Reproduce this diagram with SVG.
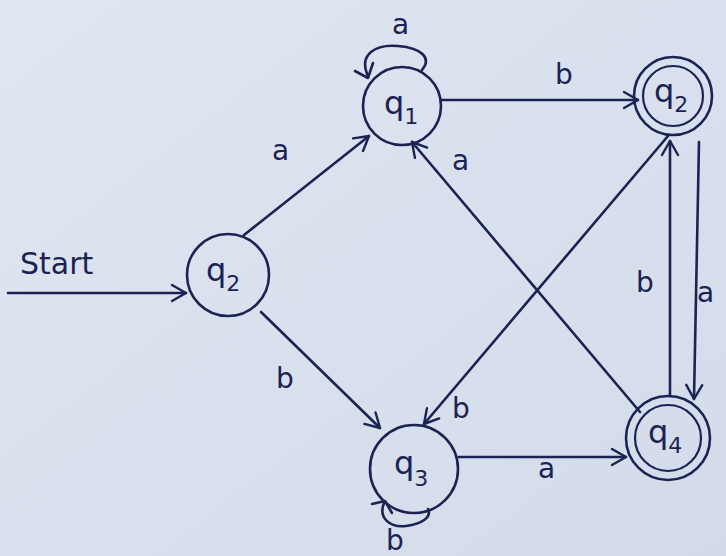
<svg xmlns="http://www.w3.org/2000/svg" width="726" height="556" viewBox="0 0 726 556">
  <style>
    .st { fill: none; stroke: #1b2353; stroke-width: 2.6; stroke-linecap: round; stroke-linejoin: round; }
    .thin { fill: none; stroke: #1b2353; stroke-width: 2.2; }
    .lbl { font-family: "DejaVu Sans", "Liberation Sans", sans-serif; font-size: 28px; fill: #1b2353; }
    .q { font-family: "DejaVu Sans", "Liberation Sans", sans-serif; font-size: 32px; fill: #1b2353; }
    .sub { font-size: 22px; }
  </style>
  <defs>
    <marker id="arr" viewBox="0 0 20 20" refX="18" refY="10" markerWidth="20" markerHeight="20" markerUnits="userSpaceOnUse" orient="auto">
      <path d="M4,2 L18,10 L4,18" fill="none" stroke="#1b2353" stroke-width="2.4" stroke-linecap="round" stroke-linejoin="round"/>
    </marker>
    <linearGradient id="paper" x1="0" y1="0" x2="1" y2="1">
      <stop offset="0" stop-color="#e0e7f2"/>
      <stop offset="1" stop-color="#d3dae9"/>
    </linearGradient>
  </defs>
  <rect width="726" height="556" fill="url(#paper)"/>

  <!-- transitions -->
  <g id="edges">
    <line class="st" x1="8" y1="293" x2="186" y2="293" marker-end="url(#arr)"/>
    <text class="lbl" x="20" y="274" style="font-size:30px">Start</text>

    <line class="st" x1="244" y1="235" x2="369" y2="136" marker-end="url(#arr)"/>
    <text class="lbl" x="272" y="160">a</text>

    <line class="st" x1="261" y1="312" x2="380" y2="428" marker-end="url(#arr)"/>
    <text class="lbl" x="276" y="388">b</text>

    <line class="st" x1="441" y1="100" x2="638" y2="100" marker-end="url(#arr)"/>
    <text class="lbl" x="555" y="84">b</text>

    <line class="st" x1="640" y1="412" x2="412" y2="142" marker-end="url(#arr)"/>
    <text class="lbl" x="452" y="170">a</text>

    <line class="st" x1="668" y1="136" x2="424" y2="424" marker-end="url(#arr)"/>
    <text class="lbl" x="452" y="418">b</text>

    <line class="st" x1="459" y1="457" x2="626" y2="457" marker-end="url(#arr)"/>
    <text class="lbl" x="538" y="478">a</text>

    <line class="st" x1="670" y1="396" x2="670" y2="141" marker-end="url(#arr)"/>
    <text class="lbl" x="636" y="292">b</text>

    <line class="st" x1="699" y1="142" x2="694" y2="399" marker-end="url(#arr)"/>
    <text class="lbl" x="697" y="302">a</text>

    <!-- self loop on q1 -->
    <path class="st" d="M368,76 C358,54 376,44 398,46 C422,48 432,58 422,70" />
    <path class="st" d="M355,71 L368,78 L373,63" />
    <text class="lbl" x="392" y="34">a</text>

    <!-- self loop on q3 -->
    <path class="st" d="M384,503 C378,518 390,528 406,526 C422,524 432,517 428,509" />
    <path class="st" d="M372,504 L385,501 L392,513" />
    <text class="lbl" x="386" y="550">b</text>
  </g>

  <g id="q1">
    <circle class="st" cx="402" cy="106" r="39"/>
    <text class="q" x="384" y="114">q<tspan class="sub" dy="10">1</tspan></text>
  </g>

  <g id="q2_accept">
    <circle class="st" cx="673" cy="96" r="39"/>
    <circle class="thin" cx="673" cy="96" r="30"/>
    <text class="q" x="654" y="102">q<tspan class="sub" dy="10">2</tspan></text>
  </g>

  <g id="q2_start">
    <circle class="st" cx="228" cy="275" r="41"/>
    <text class="q" x="206" y="281">q<tspan class="sub" dy="10">2</tspan></text>
  </g>

  <g id="q3">
    <circle class="st" cx="414" cy="469" r="44"/>
    <text class="q" x="394" y="474">q<tspan class="sub" dy="12">3</tspan></text>
  </g>

  <g id="q4">
    <circle class="st" cx="668" cy="438" r="42"/>
    <circle class="thin" cx="668" cy="438" r="33"/>
    <text class="q" x="648" y="443">q<tspan class="sub" dy="10">4</tspan></text>
  </g>
</svg>
